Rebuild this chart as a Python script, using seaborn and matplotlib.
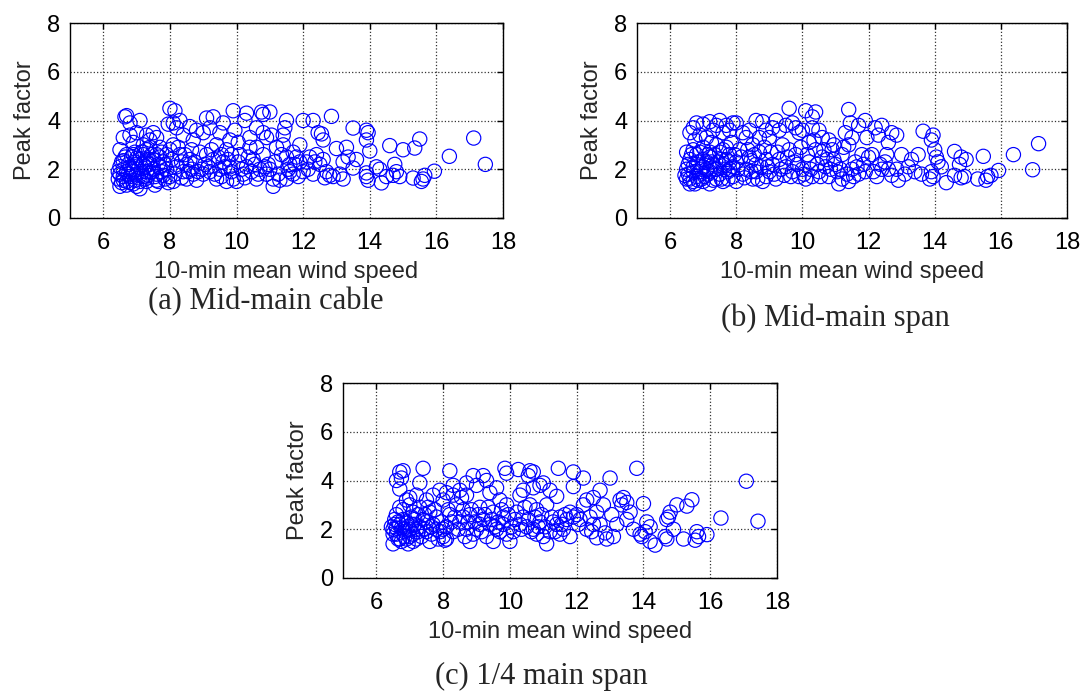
import numpy as np
import pandas as pd
import matplotlib
matplotlib.use("Agg")
import matplotlib.pyplot as plt
import seaborn as sns

# ---------------- data ----------------
a_pts = [
    (17.47, 2.2), (17.12, 3.28), (16.39, 2.53), (15.94, 1.92), (15.6, 1.6), (15.65, 1.75), (15.55, 1.5),
    (15.5, 3.24), (15.35, 2.87), (15.0, 2.8), (14.6, 2.97), (15.3, 1.64), (14.8, 1.9), (14.9, 1.7),
    (14.7, 1.75), (14.75, 2.2), (14.5, 1.7), (14.35, 1.44), (14.2, 2.1), (14.3, 2.0), (14.0, 2.75),
    (13.9, 3.6), (13.95, 3.5), (13.9, 3.2), (13.9, 1.7), (13.95, 1.55), (13.9, 1.85), (13.5, 3.69),
    (13.6, 2.4), (13.5, 2.05), (13.3, 2.9), (13.35, 2.5), (13.2, 2.3), (13.1, 1.8), (13.0, 2.85),
    (12.9, 1.7), (13.2, 1.6), (12.85, 4.17), (12.6, 3.2), (12.45, 3.5), (12.55, 3.45), (12.3, 4.0),
    (12.0, 4.0), (12.6, 2.4), (12.5, 2.2), (12.7, 1.9), (12.4, 2.6), (12.2, 2.5), (12.3, 1.8),
    (12.1, 2.3), (12.0, 1.9), (12.65, 1.65), (12.8, 1.75),
    (11.5, 4.0), (11.45, 3.7), (11.4, 3.4), (11.4, 3.0), (11.5, 2.5), (11.6, 2.2), (11.7, 1.8),
    (11.5, 1.6), (11.3, 1.55), (11.1, 1.3), (11.2, 2.9), (11.0, 4.35), (11.0, 2.0), (11.1, 1.6),
    (11.8, 2.5), (11.9, 2.3), (11.9, 3.0), (11.7, 2.7), (11.6, 1.9),
    (10.75, 4.35), (10.8, 4.25), (10.6, 3.7), (10.3, 4.3), (10.25, 4.0), (10.4, 3.3), (10.8, 3.5),
    (10.9, 3.3), (11.05, 3.4), (10.6, 2.9), (10.5, 2.4), (10.7, 2.0), (10.9, 1.8), (10.6, 1.6),
    (10.3, 2.1), (10.1, 2.6), (10.2, 1.8), (10.8, 2.6), (10.95, 2.2), (10.4, 2.9),
    (9.9, 4.4), (9.6, 3.9), (9.3, 4.15), (9.1, 4.1), (9.2, 3.7), (9.5, 3.5), (9.8, 3.2), (9.0, 3.5),
    (9.4, 3.0), (9.7, 2.8), (9.1, 2.6), (9.3, 2.4), (9.6, 2.3), (9.8, 2.1), (9.5, 2.0), (9.2, 1.9),
    (9.0, 1.8), (9.4, 1.6), (9.7, 1.5), (9.9, 1.6), (10.0, 1.5), (9.95, 3.6), (10.05, 3.1),
    (9.85, 2.6), (9.05, 2.2), (9.55, 2.6),
    (8.0, 4.5), (8.15, 4.4), (8.3, 4.0), (8.1, 3.9), (7.95, 3.85), (8.2, 3.7), (8.6, 3.75),
    (8.8, 3.6), (8.4, 3.4), (8.7, 3.2), (8.1, 3.0), (8.0, 2.8), (8.3, 2.6), (8.6, 2.4), (8.9, 2.7),
    (8.5, 2.2), (8.2, 2.1), (8.4, 1.9), (8.7, 1.8), (8.0, 1.7), (8.5, 1.6), (8.1, 1.5), (8.8, 1.55),
    (8.95, 2.0), (8.35, 2.3), (8.65, 2.0),
    (6.65, 4.15), (6.7, 4.2), (6.8, 3.9), (7.1, 4.0), (6.8, 3.4), (7.0, 3.5), (6.6, 3.3), (7.3, 3.4),
    (7.5, 3.5), (7.6, 3.3), (7.4, 3.2), (6.9, 3.1), (7.2, 3.0), (6.5, 2.8), (6.7, 2.6), (6.6, 2.35),
    (6.5, 2.1), (6.5, 1.8), (6.45, 1.6), (6.5, 1.3), (6.55, 1.45), (6.7, 1.5), (6.8, 1.7), (6.9, 1.9),
    (7.0, 2.2), (7.1, 2.4), (7.2, 2.6), (7.3, 2.8), (7.4, 2.2), (7.5, 2.0), (7.6, 1.8), (7.7, 2.5),
    (7.8, 2.3), (7.9, 2.0), (7.55, 1.35), (7.0, 1.3), (7.1, 1.5), (7.2, 1.7), (7.3, 1.9), (6.6, 2.0),
    (6.75, 2.2), (6.85, 2.5), (6.95, 2.7), (7.05, 1.65), (7.15, 1.9), (7.25, 2.1), (7.35, 2.4),
    (7.45, 2.6), (7.65, 2.2), (7.75, 1.9), (7.85, 1.6), (7.9, 2.6), (7.7, 2.9), (6.6, 1.7),
    (6.7, 1.9), (6.9, 1.4), (7.0, 1.8), (6.8, 2.1), (6.95, 2.3), (7.3, 1.5), (7.6, 1.55),
    (6.45, 1.9), (6.55, 2.3), (6.6, 1.55), (6.65, 2.5), (6.7, 1.35), (6.75, 1.8), (6.8, 1.45),
    (6.85, 2.0), (6.9, 2.6), (6.95, 1.55), (7.0, 2.45), (7.05, 2.0), (7.1, 1.2), (7.15, 2.7),
    (7.2, 2.2), (7.25, 1.6), (7.3, 2.3), (7.35, 1.75), (7.4, 2.9), (7.45, 1.9), (7.5, 2.4),
    (7.55, 1.7), (7.6, 2.6), (7.65, 1.5), (7.7, 2.1), (7.75, 2.7), (7.8, 1.75), (7.85, 2.2),
    (7.95, 1.45), (8.05, 2.4), (8.15, 1.8), (8.25, 2.9), (8.35, 1.65), (8.45, 2.6), (8.55, 1.9),
    (8.65, 2.8), (8.75, 2.3), (8.85, 1.9), (9.15, 2.1), (9.25, 2.8), (9.35, 1.8), (9.45, 2.5),
    (9.55, 1.7), (9.65, 2.1), (9.75, 2.4), (9.85, 1.9), (10.05, 2.3), (10.15, 2.0), (10.25, 1.65),
    (10.35, 2.5), (10.45, 1.9), (10.55, 2.2), (10.65, 1.8), (10.85, 2.1), (11.15, 2.3), (11.25, 1.8),
    (11.35, 2.6), (11.55, 2.0), (11.75, 2.2), (11.85, 1.7), (12.15, 2.0), (12.35, 2.3),
]

b_pts = [
    (17.14, 3.05), (16.96, 1.98), (16.38, 2.6), (15.93, 1.95), (15.47, 2.53), (15.6, 1.7),
    (15.7, 1.75), (15.55, 1.55), (15.3, 1.6), (14.6, 2.73), (14.8, 2.5), (14.95, 2.4), (14.75, 2.2),
    (14.9, 1.7), (14.8, 1.65), (14.6, 1.75), (14.35, 1.45), (14.2, 2.1), (14.1, 2.3), (13.65, 3.56),
    (13.95, 3.4), (13.9, 3.2), (14.0, 2.8), (14.05, 2.5), (13.9, 1.9), (13.95, 1.7), (13.85, 1.6),
    (13.5, 2.6), (13.3, 2.4), (13.2, 2.1), (13.0, 2.6), (13.1, 1.8), (12.9, 1.55), (12.85, 2.0),
    (13.4, 1.9), (13.6, 1.8), (12.85, 3.4), (12.7, 3.5), (12.6, 3.1), (12.4, 3.8), (12.2, 3.7),
    (12.3, 3.4), (12.5, 2.3), (12.4, 2.0), (12.6, 2.0), (12.7, 1.75), (12.25, 1.7), (12.1, 2.6),
    (12.0, 2.5),
    (11.4, 4.45), (11.9, 4.0), (11.7, 3.8), (11.45, 3.9), (11.3, 3.5), (11.5, 3.3), (11.4, 3.0),
    (11.95, 3.3), (11.8, 2.6), (11.6, 2.3), (11.5, 2.0), (11.4, 1.5), (11.2, 1.6), (11.1, 1.4),
    (11.7, 1.8), (11.9, 1.9), (11.0, 2.2), (11.2, 2.6), (11.05, 1.9),
    (10.1, 4.4), (10.4, 4.35), (10.3, 4.15), (9.6, 4.5), (9.7, 3.9), (10.0, 3.6), (10.3, 3.7),
    (10.5, 3.6), (10.6, 3.3), (10.8, 3.2), (10.2, 3.1), (10.4, 2.8), (10.6, 2.5), (10.9, 2.8),
    (10.7, 2.1), (10.5, 1.9), (10.3, 1.7), (10.1, 1.6), (10.8, 1.7), (10.95, 2.4), (10.2, 2.3),
    (10.0, 2.0),
    (9.9, 3.5), (9.5, 3.8), (9.2, 4.0), (9.0, 3.3), (9.1, 3.7), (9.4, 3.0), (9.6, 2.8), (9.8, 2.6),
    (9.3, 2.4), (9.1, 2.2), (9.5, 2.1), (9.7, 1.9), (9.9, 1.7), (9.2, 1.6), (9.0, 1.9), (9.45, 1.75),
    (9.75, 2.3), (9.05, 2.7),
    (8.6, 4.0), (8.8, 3.95), (8.9, 3.6), (8.7, 3.3), (8.2, 3.5), (8.3, 3.3), (8.0, 3.9), (8.5, 3.0),
    (8.1, 2.8), (8.4, 2.5), (8.7, 2.7), (8.9, 2.4), (8.6, 2.2), (8.3, 2.0), (8.0, 2.3), (8.2, 1.8),
    (8.5, 1.6), (8.8, 1.5), (8.0, 1.5), (8.6, 1.9), (8.9, 1.7), (8.45, 2.35),
    (6.6, 3.5), (6.7, 3.7), (6.8, 3.9), (7.0, 3.85), (7.2, 3.95), (7.5, 4.0), (7.7, 3.8), (7.9, 3.9),
    (6.9, 3.4), (7.1, 3.3), (7.3, 3.6), (7.6, 3.5), (6.5, 2.7), (6.6, 2.4), (6.7, 2.8), (6.8, 2.6),
    (7.0, 2.9), (7.2, 2.7), (7.4, 3.0), (7.6, 2.8), (7.8, 2.6), (6.5, 2.0), (6.55, 1.8), (6.5, 1.6),
    (6.6, 1.4), (6.7, 1.5), (6.8, 1.7), (6.9, 1.9), (7.0, 2.1), (7.1, 2.3), (7.2, 2.5), (7.3, 2.2),
    (7.4, 2.0), (7.5, 1.8), (7.6, 2.2), (7.7, 2.4), (7.8, 2.0), (7.9, 1.7), (7.0, 1.5), (7.2, 1.4),
    (7.4, 1.6), (7.6, 1.5), (6.7, 2.1), (6.85, 2.3), (6.95, 1.6), (7.15, 1.8), (7.35, 2.6),
    (7.55, 2.4), (7.75, 1.9), (6.75, 3.2), (7.25, 3.1), (7.85, 3.1),
    (6.45, 1.75), (6.55, 2.2), (6.6, 1.6), (6.65, 2.6), (6.7, 1.9), (6.75, 1.4), (6.8, 2.2),
    (6.85, 1.55), (6.9, 2.7), (6.95, 2.0), (7.0, 2.4), (7.05, 1.7), (7.1, 2.0), (7.15, 2.6),
    (7.2, 1.9), (7.25, 2.3), (7.3, 1.55), (7.35, 2.0), (7.45, 2.3), (7.5, 2.7), (7.55, 1.6),
    (7.65, 2.0), (7.7, 2.9), (7.75, 1.6), (7.8, 2.3), (7.9, 2.1), (7.95, 2.6), (8.05, 2.0),
    (8.15, 2.5), (8.25, 1.65), (8.35, 2.8), (8.45, 1.9), (8.55, 2.6), (8.65, 1.6), (8.75, 2.1),
    (8.85, 2.9), (8.95, 2.1), (9.15, 1.8), (9.25, 2.7), (9.35, 2.0), (9.55, 2.5), (9.65, 1.7),
    (9.85, 2.2), (9.95, 2.9), (10.05, 1.8), (10.15, 2.6), (10.25, 2.0), (10.35, 3.2), (10.45, 2.2),
    (10.55, 1.7), (10.65, 2.8), (10.75, 2.4), (10.85, 2.0), (10.95, 3.0), (11.15, 2.0), (11.25, 2.9),
    (11.35, 1.8), (11.55, 1.7), (11.65, 2.1), (11.85, 2.2), (12.15, 1.9), (12.35, 2.2), (12.55, 2.6),
    (7.4, 3.8), (7.8, 3.6), (8.4, 3.6), (9.3, 3.6), (9.8, 3.7),
]

c_pts = [
    (17.43, 2.33), (17.08, 3.97), (16.32, 2.46), (15.9, 1.78), (15.6, 1.9), (15.65, 1.7),
    (15.55, 1.55), (15.2, 1.6), (15.45, 3.21), (15.3, 2.95), (15.0, 3.0), (14.8, 2.7), (14.75, 2.5),
    (14.7, 2.4), (14.9, 2.0), (14.65, 1.7), (14.7, 1.6), (13.8, 4.5), (14.0, 3.05), (14.1, 2.3),
    (14.2, 2.1), (13.9, 1.8), (13.95, 1.7), (14.2, 1.5), (14.35, 1.35), (14.05, 1.9),
    (13.4, 3.3), (13.3, 3.2), (13.5, 3.1), (13.35, 3.0), (13.6, 2.7), (13.5, 2.4), (13.2, 2.2),
    (13.7, 2.0), (13.0, 4.1), (13.1, 1.7), (12.9, 1.6), (12.85, 1.85), (13.05, 2.6), (12.8, 3.0),
    (12.2, 4.1), (11.9, 4.35), (11.9, 3.75), (12.7, 3.6), (12.5, 3.3), (12.3, 3.2), (12.2, 3.0),
    (12.6, 2.7), (12.4, 2.5), (12.3, 2.0), (12.7, 2.2), (12.0, 2.6), (12.1, 2.4), (12.6, 1.65),
    (11.8, 2.7), (11.9, 2.5),
    (11.45, 4.5), (11.4, 3.35), (11.2, 3.6), (11.0, 3.9), (11.1, 3.0), (11.5, 2.5), (11.3, 2.3),
    (11.6, 2.0), (11.5, 1.8), (11.1, 1.4), (11.0, 1.7), (11.7, 2.4), (11.4, 2.2), (11.2, 1.9),
    (11.8, 1.7),
    (10.25, 4.45), (10.6, 4.4), (10.7, 4.35), (10.55, 4.2), (10.7, 3.7), (10.4, 3.6), (10.9, 3.8),
    (10.3, 3.4), (10.6, 3.0), (10.8, 2.8), (10.2, 2.7), (10.4, 2.5), (10.5, 2.1), (10.7, 2.0),
    (10.9, 2.3), (10.1, 1.9), (10.3, 2.2), (10.8, 1.8), (10.0, 1.5), (10.95, 2.6),
    (9.85, 4.5), (9.9, 4.3), (9.6, 3.7), (9.3, 4.0), (9.2, 4.2), (9.0, 3.8), (9.4, 3.5), (9.7, 3.2),
    (9.9, 3.0), (9.1, 2.9), (9.5, 2.7), (9.8, 2.5), (9.2, 2.4), (9.4, 2.2), (9.6, 2.0), (9.9, 1.8),
    (9.3, 1.7), (9.5, 1.5), (9.0, 2.0), (9.75, 2.8), (9.05, 2.6), (9.65, 2.3),
    (8.2, 4.4), (8.9, 4.2), (8.7, 3.9), (8.5, 3.6), (8.3, 3.8), (8.1, 3.5), (8.0, 3.2), (8.4, 3.0),
    (8.6, 2.8), (8.8, 2.6), (8.2, 2.6), (8.5, 2.3), (8.1, 2.1), (8.3, 1.9), (8.0, 1.7), (8.7, 2.0),
    (8.9, 1.8), (8.8, 1.5), (8.05, 1.55), (8.55, 3.3), (8.95, 2.3),
    (6.7, 4.35), (6.8, 4.4), (6.75, 4.1), (6.6, 4.0), (6.7, 3.65), (7.4, 4.5), (7.3, 3.9),
    (7.2, 3.4), (7.5, 3.2), (7.7, 3.4), (7.9, 3.6), (6.9, 3.2), (7.0, 3.0), (6.6, 2.6), (6.8, 2.8),
    (7.1, 2.7), (7.3, 2.9), (7.6, 2.7), (7.8, 2.5), (6.45, 2.1), (6.5, 2.0), (6.55, 2.2), (6.6, 1.8),
    (6.5, 1.4), (6.7, 1.6), (6.8, 2.0), (6.9, 2.3), (7.0, 2.0), (7.1, 1.8), (7.2, 1.6), (6.95, 1.4),
    (7.3, 2.1), (7.4, 2.4), (7.5, 1.9), (7.6, 1.5), (7.7, 2.2), (7.9, 1.9), (7.85, 1.6),
    (6.65, 2.3), (6.85, 1.7), (7.05, 2.5), (7.25, 1.9), (7.45, 2.6), (7.65, 2.1), (6.75, 2.05),
    (7.15, 2.2),
    (6.5, 1.8), (6.55, 2.4), (6.6, 2.05), (6.65, 1.6), (6.7, 2.2), (6.75, 1.5), (6.8, 2.4),
    (6.85, 1.9), (6.9, 1.6), (6.95, 2.1), (7.0, 1.7), (7.05, 2.2), (7.1, 1.5), (7.15, 2.4),
    (7.2, 2.0), (7.25, 2.6), (7.35, 1.7), (7.45, 2.0), (7.5, 2.3), (7.55, 2.9), (7.65, 1.8),
    (7.75, 2.8), (7.8, 2.0), (7.95, 2.3), (8.0, 2.0), (8.1, 1.6), (8.15, 2.8), (8.25, 2.3),
    (8.35, 2.5), (8.45, 2.0), (8.6, 2.5), (8.65, 1.7), (8.75, 2.3), (8.85, 2.8), (9.1, 2.2),
    (9.15, 1.9), (9.25, 2.6), (9.35, 2.9), (9.45, 2.4), (9.55, 2.1), (9.7, 1.9), (9.8, 2.2),
    (9.95, 2.6), (10.05, 2.1), (10.15, 2.4), (10.35, 2.0), (10.45, 2.9), (10.55, 2.4), (10.65, 1.9),
    (10.75, 2.5), (10.85, 2.1), (11.05, 2.1), (11.25, 2.5), (11.35, 1.9), (11.55, 2.2), (11.65, 2.6),
    (12.05, 2.2), (12.45, 1.9), (12.5, 2.2), (6.7, 2.9), (7.0, 3.3), (8.3, 3.4), (8.7, 3.4),
]

x_ticks = [6, 8, 10, 12, 14, 16, 18]
y_ticks = [0, 2, 4, 6, 8]
x_label = "10-min mean wind speed"
y_label = "Peak factor"
captions = ["(a) Mid-main cable", "(b) Mid-main span", "(c) 1/4 main span"]

# ---------------- plotting ----------------
sns.set_style("white")
plt.rcParams["font.family"] = ["Liberation Sans", "DejaVu Sans"]

fig = plt.figure(figsize=(10.88, 6.91), dpi=100)
W, H = 1088.0, 691.0


def make_axes(left, top, right, bottom):
    return fig.add_axes([left / W, 1 - bottom / H, (right - left) / W, (bottom - top) / H])


axes_boxes = [(70, 23, 503, 218), (637, 23, 1067, 218), (343, 383, 777, 578)]
datasets = [a_pts, b_pts, c_pts]

for (box, pts) in zip(axes_boxes, datasets):
    ax = make_axes(*box)
    df = pd.DataFrame(pts, columns=["speed", "peak"])
    sns.scatterplot(data=df, x="speed", y="peak", ax=ax, marker="o",
                    facecolor="none", edgecolor="#0000ff", s=105, linewidth=0.85,
                    legend=False)
    ax.set_xlim(5, 18)
    ax.set_ylim(0, 8)
    ax.set_xticks(x_ticks)
    ax.set_yticks(y_ticks)
    ax.grid(True, linestyle=":", color="#333333", linewidth=0.9)
    ax.set_axisbelow(True)
    ax.tick_params(direction="in", top=True, right=True, length=4, width=1,
                   labelsize=17, colors="black")
    ax.tick_params(axis="x", pad=10)
    ax.tick_params(axis="y", pad=7)
    for sp in ax.spines.values():
        sp.set_visible(True)
        sp.set_color("black")
        sp.set_linewidth(1.0)
    ax.set_xlabel(x_label, fontsize=17, labelpad=5)
    ax.set_ylabel(y_label, fontsize=17, labelpad=8)

cap_font = ["Liberation Serif", "DejaVu Serif"]
fig.text(266 / W, 1 - 302 / H, captions[0], ha="center", va="center", fontsize=22, family=cap_font)
fig.text(835 / W, 1 - 318 / H, captions[1], ha="center", va="center", fontsize=22, family=cap_font)
fig.text(541 / W, 1 - 676 / H, captions[2], ha="center", va="center", fontsize=22, family=cap_font)

fig.savefig("out.png", dpi=100)
